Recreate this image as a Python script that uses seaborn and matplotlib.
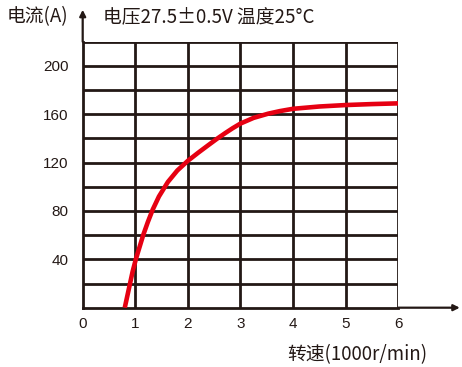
import matplotlib

matplotlib.use("Agg")

import matplotlib.pyplot as plt
import seaborn as sns

# values
SPEED = [0.80, 0.85, 0.90, 0.95, 1.01, 1.08, 1.15, 1.24, 1.33, 1.45, 1.62, 1.80, 2.00, 2.20,
         2.40, 2.55, 2.71, 2.85, 3.00, 3.25, 3.53, 3.75, 4.00, 4.50, 5.00, 5.50, 6.00]
CURRENT = [0, 10, 20, 30, 40, 50, 60, 71, 81, 92, 104, 113.5, 121.5, 128.3,
           134.8, 139.6, 144.4, 148.4, 152.3, 157, 160.5, 162.6, 164.5, 166.4, 167.6, 168.4, 169]

X_TICKS = [0, 1, 2, 3, 4, 5, 6]
Y_TICKS = [40, 80, 120, 160, 200]
Y_GRID = [20, 40, 60, 80, 100, 120, 140, 160, 180, 200, 220]

INK = "#231815"
RED = "#e60012"

sns.set_theme(style="white")
plt.rcParams["font.family"] = ["Liberation Sans", "Noto Sans CJK SC", "DejaVu Sans"]
cjk = ["Noto Sans CJK SC", "DejaVu Sans"]

fig = plt.figure(figsize=(4.62, 3.67), dpi=100)
ax = fig.add_axes([0.179, 0.1616, 0.683, 0.7248])

for x in X_TICKS[1:]:
    ax.axvline(x, color=INK, lw=2.0, zorder=1)
for y in Y_GRID:
    ax.axhline(y, color=INK, lw=2.0, zorder=1)

sns.lineplot(x=SPEED, y=CURRENT, ax=ax, color=RED, linewidth=3.3, zorder=3,
             solid_capstyle="butt", solid_joinstyle="round")

ax.set_xlim(0, 6)
ax.set_ylim(0, 220)
ax.set_xticks(X_TICKS)
ax.set_yticks(Y_TICKS)
ax.tick_params(length=0, labelsize=11, colors=INK, pad=10)
ax.tick_params(axis="x", pad=7)
for side in ["top", "right"]:
    ax.spines[side].set_visible(False)
for side in ["left", "bottom"]:
    ax.spines[side].set_color(INK)
    ax.spines[side].set_linewidth(2.0)

# axis arrows
ax.annotate("", xy=(0, 1.12), xytext=(0, 1.0), xycoords="axes fraction",
            arrowprops=dict(arrowstyle="-|>", lw=1.6, color=INK, mutation_scale=9, shrinkA=0, shrinkB=0),
            annotation_clip=False)
ax.annotate("", xy=(1.195, 0), xytext=(1.0, 0), xycoords="axes fraction",
            arrowprops=dict(arrowstyle="-|>", lw=1.6, color=INK, mutation_scale=9, shrinkA=0, shrinkB=0),
            annotation_clip=False)

fig.text(37 / 462, 1 - 17 / 367, "电流(A)", family=cjk, fontsize=13.5, color=INK, va="center", ha="center")
fig.text(103 / 462, 1 - 17 / 367, "电压27.5±0.5V 温度25°C", family=cjk, fontsize=13.5,
         color=INK, va="center", ha="left")
fig.text(357 / 462, 1 - 355 / 367, "转速(1000r/min)", family=cjk, fontsize=13.5,
         color=INK, va="center", ha="center")

fig.savefig("out.png", dpi=100)
plt.close(fig)
